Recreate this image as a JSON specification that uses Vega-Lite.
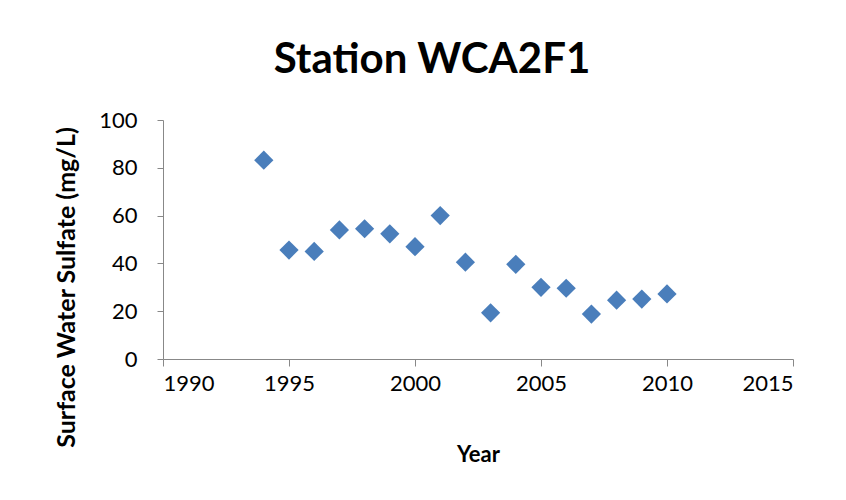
{
  "$schema": "https://vega.github.io/schema/vega-lite/v6.json",
  "width": 630,
  "height": 239,
  "autosize": {"type": "none"},
  "padding": {"left": 163, "top": 120, "right": 53, "bottom": 141},
  "background": "white",
  "title": {
    "text": "Station WCA2F1",
    "font": "Lato",
    "fontSize": 42,
    "fontWeight": "bold",
    "color": "black",
    "anchor": "middle",
    "dx": -46,
    "offset": 27
  },
  "data": {
    "values": [
      {"Year": 1994, "Sulfate": 83.2},
      {"Year": 1995, "Sulfate": 45.6},
      {"Year": 1996, "Sulfate": 45.0},
      {"Year": 1997, "Sulfate": 54.0},
      {"Year": 1998, "Sulfate": 54.5},
      {"Year": 1999, "Sulfate": 52.4},
      {"Year": 2000, "Sulfate": 47.0},
      {"Year": 2001, "Sulfate": 60.0},
      {"Year": 2002, "Sulfate": 40.5},
      {"Year": 2003, "Sulfate": 19.3},
      {"Year": 2004, "Sulfate": 39.6},
      {"Year": 2005, "Sulfate": 30.0},
      {"Year": 2006, "Sulfate": 29.6},
      {"Year": 2007, "Sulfate": 18.8},
      {"Year": 2008, "Sulfate": 24.6},
      {"Year": 2009, "Sulfate": 25.1},
      {"Year": 2010, "Sulfate": 27.2}
    ]
  },
  "mark": {"type": "point", "shape": "diamond", "filled": true, "size": 370, "color": "#4a7ebb", "opacity": 1},
  "encoding": {
    "x": {
      "field": "Year",
      "type": "quantitative",
      "scale": {"domain": [1990, 2015], "zero": false, "nice": false},
      "axis": {
        "values": [1990, 1995, 2000, 2005, 2010, 2015],
        "format": "d",
        "grid": false,
        "title": "Year",
        "titleFont": "Lato",
        "titleFontSize": 22,
        "titleFontWeight": "bold",
        "titleColor": "black",
        "titlePadding": 50,
        "labelFont": "Lato",
        "labelFontSize": 22,
        "labelColor": "black",
        "labelPadding": 7,
        "domainColor": "#888888",
        "tickColor": "#888888",
        "tickSize": 7
      }
    },
    "y": {
      "field": "Sulfate",
      "type": "quantitative",
      "scale": {"domain": [0, 100], "nice": false},
      "axis": {
        "values": [0, 20, 40, 60, 80, 100],
        "grid": false,
        "title": "Surface Water Sulfate (mg/L)",
        "titleFont": "Lato",
        "titleFontSize": 25,
        "titleFontWeight": "bold",
        "titleColor": "black",
        "titleX": -97,
        "titleY": 167,
        "titleAngle": -90,
        "titleAlign": "center",
        "titleBaseline": "middle",
        "labelFont": "Lato",
        "labelFontSize": 22,
        "labelColor": "black",
        "labelPadding": 20,
        "domainColor": "#888888",
        "tickColor": "#888888",
        "tickSize": 6
      }
    }
  },
  "config": {"view": {"stroke": null}}
}
